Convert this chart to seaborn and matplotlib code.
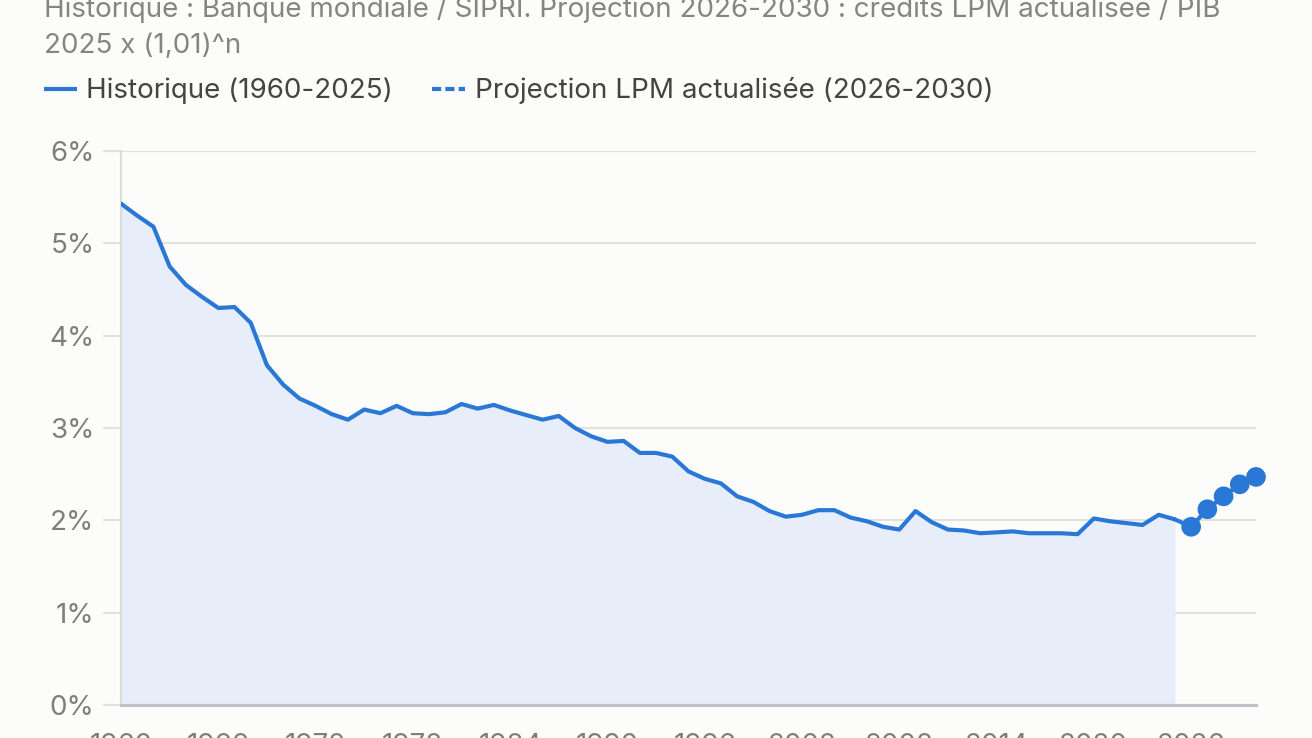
import numpy as np
import pandas as pd
import matplotlib
matplotlib.use("Agg")
import matplotlib.pyplot as plt
from matplotlib.lines import Line2D
import seaborn as sns

# ---------------- data ----------------
hist_years = list(range(1960, 2026))
hist_values = [
    5.43, 5.30, 5.18, 4.75, 4.55, 4.42, 4.30, 4.31, 4.14, 3.68,
    3.47, 3.32, 3.24, 3.15, 3.09, 3.20, 3.16, 3.24, 3.16, 3.15,
    3.17, 3.26, 3.21, 3.25, 3.19, 3.14, 3.09, 3.13, 3.00, 2.91,
    2.85, 2.86, 2.73, 2.73, 2.69, 2.53, 2.45, 2.40, 2.26, 2.20,
    2.10, 2.04, 2.06, 2.11, 2.11, 2.03, 1.99, 1.93, 1.90, 2.10,
    1.98, 1.90, 1.89, 1.86, 1.87, 1.88, 1.86, 1.86, 1.86, 1.85,
    2.02, 1.99, 1.97, 1.95, 2.06, 2.01,
]
proj_years = [2026, 2027, 2028, 2029, 2030]
proj_values = [1.93, 2.12, 2.26, 2.39, 2.47]

x_ticks = [1960, 1966, 1972, 1978, 1984, 1990, 1996, 2002, 2008, 2014, 2020, 2026]
y_ticks = [0, 1, 2, 3, 4, 5, 6]
y_tick_labels = ["0%", "1%", "2%", "3%", "4%", "5%", "6%"]

legend_labels = ["Historique (1960-2025)", "Projection LPM actualisée (2026-2030)"]
title_line1 = "Historique : Banque mondiale / SIPRI. Projection 2026-2030 : crédits LPM actualisée / PIB"
title_line2 = "2025 x (1,01)^n"

hist_df = pd.DataFrame({"year": hist_years, "value": hist_values})
# projection line joins the last historical point
link_df = pd.DataFrame({"year": [hist_years[-1]] + proj_years,
                        "value": [hist_values[-1]] + proj_values})
proj_df = pd.DataFrame({"year": proj_years, "value": proj_values})

# ---------------- style ----------------
BG = "#FCFCFA"
BLUE = "#2A78D6"
FILL = "#E8EEF9"
GRID = "#E2E2DD"
TICK_TXT = "#7E7E7E"
FONT = ["Inter", "DejaVu Sans"]
FS = 20

sns.set_theme(style="white")
plt.rcParams["font.family"] = FONT

W, H = 1312, 738
fig = plt.figure(figsize=(W / 100, H / 100), dpi=100, facecolor=BG)
ax = fig.add_axes([121 / W, 1 - 705 / H, (1256 - 121) / W, (705 - 151) / H])
ax.set_facecolor(BG)

ax.fill_between(hist_df["year"], 0, hist_df["value"], color=FILL, linewidth=0, zorder=1)
sns.lineplot(data=hist_df, x="year", y="value", ax=ax, color=BLUE, linewidth=3.0,
             zorder=4, legend=False)
sns.lineplot(data=link_df, x="year", y="value", ax=ax, color=BLUE, linewidth=3.0,
             dashes=False, zorder=4, legend=False)
pts = sns.scatterplot(data=proj_df, x="year", y="value", ax=ax, color=BLUE, s=200,
                      edgecolor="none", zorder=5, legend=False)
for coll in ax.collections:
    coll.set_clip_on(False)

ax.set_xlim(1960, 2030)
ax.set_ylim(0, 6)
ax.set_yticks(y_ticks)
ax.set_yticklabels(y_tick_labels)
ax.set_xticks(x_ticks)
ax.set_xticklabels([str(v) for v in x_ticks])
ax.set_xlabel("")
ax.set_ylabel("")

ax.yaxis.grid(True, color=GRID, linewidth=1.5, zorder=0)
ax.xaxis.grid(False)
for s in ["top", "right"]:
    ax.spines[s].set_visible(False)
ax.spines["left"].set_color("#DCDCDA")
ax.spines["left"].set_linewidth(1.6)
ax.spines["left"].set_zorder(2)
ax.spines["bottom"].set_color("#BCC2C6")
ax.spines["bottom"].set_linewidth(2.2)
ax.spines["bottom"].set_zorder(3)

ax.tick_params(axis="y", length=13, width=1.5, color=GRID, pad=6.0,
               labelsize=FS, labelcolor=TICK_TXT, left=True)
ax.tick_params(axis="x", length=0, pad=20, labelsize=FS, labelcolor=TICK_TXT,
               bottom=True)

# ---------------- titles ----------------
fig.text(44 / W, 1 - 17 / H, title_line1, ha="left", va="baseline",
         fontsize=FS, color="#858585")
fig.text(44 / W, 1 - 53 / H, title_line2, ha="left", va="baseline",
         fontsize=FS, color="#858585")

# ---------------- legend ----------------
handles = [
    Line2D([0], [0], color=BLUE, linewidth=3.0, solid_capstyle="butt"),
    Line2D([0], [0], color=BLUE, linewidth=3.0, linestyle=(0, (2.2, 1.0)),
           dash_capstyle="butt"),
]
fig.legend(handles, legend_labels, loc="center left",
           bbox_to_anchor=(44 / W, 1 - 91 / H), ncol=2, frameon=False,
           fontsize=FS, labelcolor="#444444", handlelength=1.2,
           handletextpad=0.33, columnspacing=1.4, borderpad=0, borderaxespad=0)

fig.savefig("out.png", dpi=100, facecolor=BG)
